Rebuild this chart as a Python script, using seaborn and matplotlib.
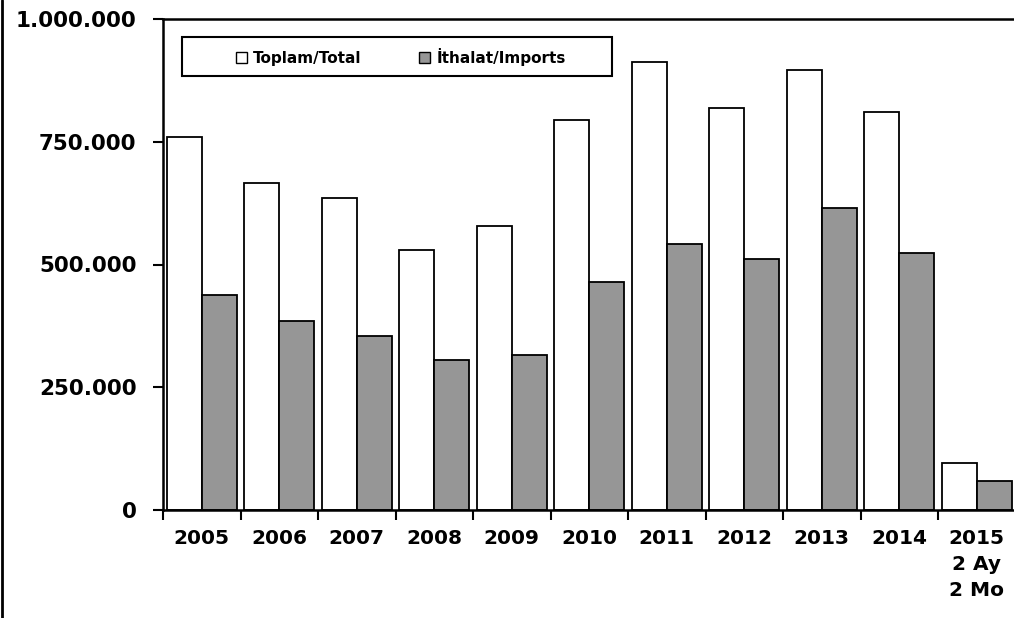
import numpy as np
import pandas as pd
import seaborn as sns
import matplotlib.pyplot as plt
from matplotlib.lines import Line2D
from matplotlib.patches import Rectangle
from matplotlib.ticker import FuncFormatter, FixedLocator

# Data
years = ["2005", "2006", "2007", "2008", "2009", "2010",
         "2011", "2012", "2013", "2014", "2015\n2 Ay\n2 Mo"]
total = [760000, 665000, 636000, 529000, 578000, 794000,
         913000, 818000, 897000, 810000, 96000]
imports = [438000, 385000, 355000, 306000, 315000, 465000,
           542000, 512000, 616000, 524000, 59000]
series_names = ["Toplam/Total", "İthalat/Imports"]

df = pd.DataFrame({
    "year": years * 2,
    "value": total + imports,
    "series": [series_names[0]] * len(years) + [series_names[1]] * len(years),
})

sns.set_style("ticks")
plt.rcParams["font.family"] = ["DejaVu Sans"]
plt.rcParams["text.color"] = "black"
plt.rcParams["xtick.color"] = "black"
plt.rcParams["ytick.color"] = "black"
plt.rcParams["xtick.labelcolor"] = "black"
plt.rcParams["ytick.labelcolor"] = "black"

fig = plt.figure(figsize=(10.14, 6.18), dpi=100)
ax = fig.add_axes([163 / 1014, 1 - 510 / 618, 11 * 77.5 / 1014, (510 - 19) / 618])

sns.barplot(data=df, x="year", y="value", hue="series", order=years,
            hue_order=series_names, palette=["white", "#969696"],
            edgecolor="black", linewidth=1.3, width=0.9, errorbar=None,
            ax=ax, legend=False)

ax.set_xlim(-0.5, len(years) - 0.5)
ax.set_ylim(0, 1000000)
ax.set_yticks([0, 250000, 500000, 750000, 1000000])
ax.yaxis.set_major_formatter(FuncFormatter(lambda v, p: f"{int(v):,}".replace(",", ".")))
ax.set_xlabel("")
ax.set_ylabel("")

# tick marks between categories, labels centred
ax.xaxis.set_minor_locator(FixedLocator(np.arange(-0.5, len(years), 1.0)))
ax.tick_params(axis="x", which="major", length=0, pad=14, colors="black")
ax.tick_params(axis="x", which="minor", length=7, width=1.5, direction="out", colors="black")
ax.tick_params(axis="y", which="major", length=7, width=1.5, direction="out", pad=12, colors="black")
for lab in ax.get_xticklabels():
    lab.set_fontsize(14.5)
    lab.set_fontweight("bold")
    lab.set_linespacing(1.45)
    lab.set_color("black")
for lab in ax.get_yticklabels():
    lab.set_fontsize(15.5)
    lab.set_fontweight("bold")
    lab.set_color("black")

for side in ["left", "bottom", "top"]:
    ax.spines[side].set_linewidth(1.8)
    ax.spines[side].set_color("black")
ax.spines["right"].set_visible(False)

# legend box
ax.add_patch(Rectangle((19 / 852.5, (510 - 76) / 491), 430 / 852.5, 39 / 491,
                       transform=ax.transAxes, facecolor="white",
                       edgecolor="black", linewidth=1.5, zorder=5))
handles = [Rectangle((0, 0), 1, 1, facecolor=c, edgecolor="black", linewidth=1.0)
           for c in ["white", "#969696"]]
leg = ax.legend(handles, series_names, loc="center left",
                bbox_to_anchor=((236 - 163) / 852.5, (510 - 56.5) / 491),
                ncol=2, frameon=False, borderpad=0, borderaxespad=0,
                handlelength=0.7, handleheight=0.7, handletextpad=0.4,
                columnspacing=3.8, prop={"size": 11, "weight": "bold"})
for t in leg.get_texts():
    t.set_color("black")
leg.set_zorder(6)

# left border of the figure
fig.add_artist(Line2D([0.002, 0.002], [0, 1], color="black", linewidth=2,
                      transform=fig.transFigure))

fig.savefig("out.png", dpi=100)
